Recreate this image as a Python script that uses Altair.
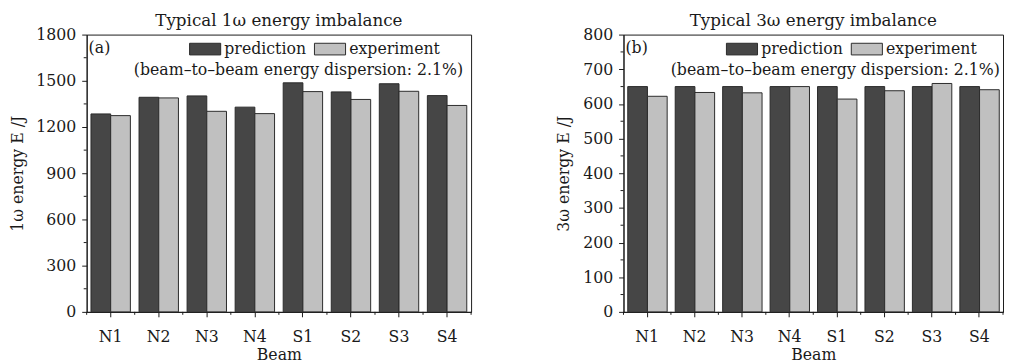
import altair as alt
import pandas as pd

# ---------------- data ----------------
beams = ["N1", "N2", "N3", "N4", "S1", "S2", "S3", "S4"]
series = ["prediction", "experiment"]

pred_1w = [1285, 1393, 1402, 1329, 1487, 1428, 1481, 1404]
exp_1w = [1274, 1389, 1302, 1287, 1430, 1379, 1432, 1340]

pred_3w = [650, 650, 650, 650, 650, 650, 650, 650]
exp_3w = [622, 633, 632, 650, 614, 638, 659, 641]

ticks_1w = [0, 300, 600, 900, 1200, 1500, 1800]
minor_1w = [150, 450, 750, 1050, 1350, 1650]
ticks_3w = [0, 100, 200, 300, 400, 500, 600, 700, 800]
minor_3w = [50, 150, 250, 350, 450, 550, 650, 750]
band_edges = [0, 1, 2, 3, 4, 5, 6, 7, 8]

titles = ["Typical 1\u03c9 energy imbalance", "Typical 3\u03c9 energy imbalance"]
ytitles = ["1\u03c9 energy E /J", "3\u03c9 energy E /J"]
panel_labels = ["(a)", "(b)"]
note = "(beam\u2013to\u2013beam energy dispersion: 2.1%)"

# ---------------- style ----------------
FONT = "DejaVu Serif"
FS = 16
DARK = "#464646"
LIGHT = "#c0c0c0"
INK = "#1a1a1a"
H = 282


def panel(pred, exp, ymax, ticks, minor, title, ytitle, plabel, W):
    df = pd.DataFrame({
        "beam": beams * 2,
        "series": [series[0]] * len(beams) + [series[1]] * len(beams),
        "energy": pred + exp,
    })
    xscale = alt.Scale(domain=beams, paddingInner=0.18, paddingOuter=0.09)
    yscale = alt.Scale(domain=[0, ymax], nice=False, zero=True)
    yaxis = alt.Axis(values=ticks, title=ytitle, tickSize=5, format="d",
                     labelPadding=6, titlePadding=11)

    bars = alt.Chart(df).mark_bar(stroke="#2a2a2a", strokeWidth=1).encode(
        x=alt.X("beam:N", scale=xscale, sort=beams,
                axis=alt.Axis(title="Beam", labelAngle=0, tickSize=5,
                              labelPadding=12, titlePadding=2)),
        xOffset=alt.XOffset("series:N", sort=series,
                            scale=alt.Scale(domain=series, paddingInner=0, paddingOuter=0)),
        y=alt.Y("energy:Q", scale=yscale, axis=yaxis),
        color=alt.Color("series:N", sort=series,
                        scale=alt.Scale(domain=series, range=[DARK, LIGHT]),
                        legend=alt.Legend(
                            orient="none", direction="horizontal", title=None,
                            legendX=104, legendY=-2, padding=0,
                            symbolType="M-1,-0.375H1V0.375H-1Z", symbolSize=1000,
                            symbolStrokeColor="#2a2a2a", symbolStrokeWidth=1,
                            symbolOpacity=1,
                            labelFont=FONT, labelFontSize=FS, labelColor=INK,
                            labelOffset=3, columnPadding=5)),
    )

    ydf = pd.DataFrame({"energy": minor})
    yminor = alt.Chart(ydf).mark_rule(color=INK, strokeWidth=1).encode(
        y=alt.Y("energy:Q", scale=yscale, axis=yaxis),
        x=alt.value(-3), x2=alt.value(0),
    )

    edf = pd.DataFrame({"e": band_edges})
    xminor = alt.Chart(edf).mark_rule(color=INK, strokeWidth=1).encode(
        x=alt.X("e:Q", scale=alt.Scale(domain=[0, len(beams)], nice=False, zero=False),
                axis=None),
        y=alt.value(H), y2=alt.value(H + 3),
    )

    lab = alt.Chart(pd.DataFrame({"t": [plabel]})).mark_text(
        font=FONT, fontSize=FS, color=INK, align="left", baseline="middle"
    ).encode(text="t:N", x=alt.value(2), y=alt.value(14))

    nt = alt.Chart(pd.DataFrame({"t": [note]})).mark_text(
        font=FONT, fontSize=FS, color=INK, align="left", baseline="middle"
    ).encode(text="t:N", x=alt.value(48), y=alt.value(36))

    return alt.layer(bars, yminor, xminor, lab, nt).resolve_scale(x="independent").properties(
        width=W, height=H,
        title=alt.TitleParams(title, font=FONT, fontSize=17, fontWeight="normal",
                              color=INK, anchor="middle", offset=-3),
    )


left = panel(pred_1w, exp_1w, 1800, ticks_1w, minor_1w, titles[0], ytitles[0], panel_labels[0], 391)
right = panel(pred_3w, exp_3w, 800, ticks_3w, minor_3w, titles[1], ytitles[1], panel_labels[1], 386)

chart = alt.hconcat(left, right, spacing=84).resolve_scale(
    color="independent"
).resolve_legend(
    color="independent"
).properties(
    padding=0, background="white"
).configure_view(
    stroke=INK, strokeWidth=1
).configure_axis(
    labelFont=FONT, labelFontSize=FS, labelColor=INK,
    titleFont=FONT, titleFontSize=FS, titleColor=INK, titleFontWeight="normal",
    domainColor=INK, tickColor=INK, grid=False,
)

chart.save("out.html", embed_options={"renderer": "svg", "actions": False})
